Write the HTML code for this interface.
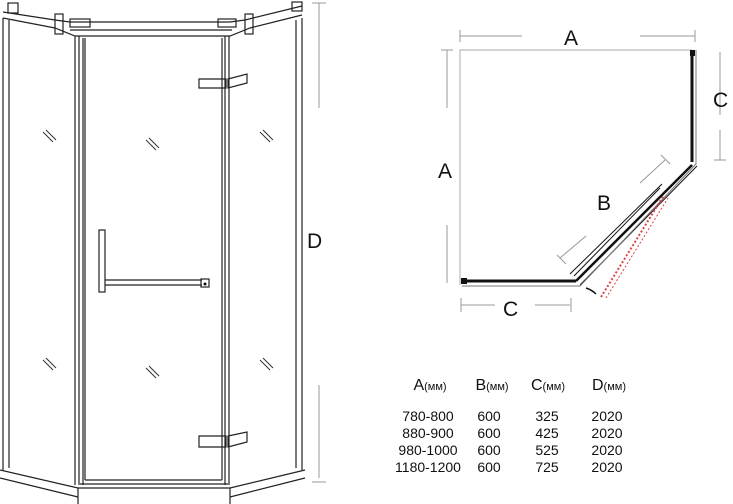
<!DOCTYPE html>
<html><head><style>body{margin:0;background:#fff}svg{display:block}text{font-family:"Liberation Sans",sans-serif;fill:#111}</style></head><body>
<svg width="733" height="504" viewBox="0 0 733 504" xmlns="http://www.w3.org/2000/svg">
<g stroke="#222" fill="none" stroke-width="1.2">
<line x1="3" y1="18" x2="3" y2="470"/><line x1="9" y1="20" x2="9" y2="468"/>
<line x1="75" y1="36" x2="75" y2="485"/><line x1="79" y1="36" x2="79" y2="485"/>
<line x1="83" y1="38" x2="83" y2="485"/>
<line x1="85" y1="38" x2="85" y2="480"/><line x1="222" y1="38" x2="222" y2="480"/>
<line x1="225" y1="36" x2="225" y2="485"/><line x1="229" y1="36" x2="229" y2="485"/>
<line x1="85" y1="480" x2="222" y2="480"/><line x1="80" y1="484" x2="228" y2="484"/>
<line x1="296" y1="20" x2="296" y2="468"/><line x1="302" y1="18" x2="302" y2="470"/>
<polyline points="3,18 55,28 75,36 230,36 250,28 302,15"/>
<polyline points="3,12 55,20 70,22 230,22 245,20 302,6"/>
<line x1="70" y1="30" x2="232" y2="30"/>
<rect x="55" y="14" width="8" height="20"/><rect x="245" y="14" width="8" height="20"/>
<rect x="8" y="3" width="10" height="10"/><rect x="292" y="2" width="10" height="9"/>
<rect x="70" y="19" width="20" height="8"/><rect x="218" y="19" width="18" height="8"/>
<polygon points="199,79 226,79 226,88 199,88"/><polygon points="228,79 247,74 247,83 228,88"/>
<polygon points="199,436 226,436 226,447 199,447"/><polygon points="228,436 247,432 247,442 228,447"/>
<rect x="99" y="230" width="6" height="62"/>
<line x1="105" y1="280" x2="202" y2="280"/><line x1="105" y1="285" x2="202" y2="285"/>
<rect x="201" y="279" width="8" height="8"/>
<polyline points="0,470 78,488 78,504"/><polyline points="0,478 78,497"/>
<polyline points="305,470 230,488 230,504"/><polyline points="305,478 230,497"/>
<line x1="78" y1="488" x2="230" y2="488"/>
</g>
<circle cx="205" cy="284" r="1.5" fill="#111"/>
<g stroke="#333" stroke-width="1">
<path d="M43 132l10 10M46 130l10 10M146 140l10 10M149 138l10 10M260 132l10 10M263 130l10 10"/>
<path d="M43 360l10 10M46 358l10 10M146 368l10 10M149 366l10 10M260 360l10 10M263 358l10 10"/>
</g>
<g stroke="#999" stroke-width="1"><line x1="319" y1="3" x2="319" y2="108"/><line x1="312" y1="3" x2="326" y2="3"/><line x1="319" y1="385" x2="319" y2="478"/><line x1="312" y1="482" x2="326" y2="482"/></g>
<text x="307" y="248" font-size="21">D</text>
<g stroke="#bbb" stroke-width="1.2" fill="none"><polyline points="460,285 460,50 692,50"/></g>
<g stroke="#111" fill="none">
<line x1="462" y1="281" x2="576" y2="281" stroke-width="3"/>
<line x1="692" y1="50" x2="692" y2="162" stroke-width="3"/>
<line x1="576" y1="281" x2="692" y2="165" stroke-width="2.5"/>
<line x1="580" y1="285" x2="697" y2="166" stroke-width="1"/>
<line x1="574" y1="276" x2="660" y2="188" stroke-width="1"/>
<line x1="570" y1="274" x2="662" y2="184" stroke-width="1"/>
<polyline points="696,50 696,164 580,286 462,286" stroke-width="1" stroke="#777"/>
</g>
<rect x="461" y="278" width="6" height="6" fill="#111"/><rect x="690" y="50" width="5" height="6" fill="#111"/>
<line x1="601" y1="297" x2="664" y2="195" stroke="#d44" stroke-width="2" stroke-dasharray="2,2"/>
<line x1="606" y1="298" x2="668" y2="198" stroke="#d44" stroke-width="1" stroke-dasharray="2,2"/>
<path d="M586 288 q6 2 10 6" stroke="#111" stroke-width="1.5" fill="none"/>
<g stroke="#999" stroke-width="1">
<line x1="460" y1="36" x2="522" y2="36"/><line x1="640" y1="36" x2="695" y2="36"/><line x1="695" y1="30" x2="695" y2="42"/><line x1="460" y1="30" x2="460" y2="42"/>
<line x1="447" y1="50" x2="447" y2="108"/><line x1="447" y1="225" x2="447" y2="283"/><line x1="441" y1="50" x2="453" y2="50"/>
<line x1="720" y1="52" x2="720" y2="115"/><line x1="720" y1="130" x2="720" y2="160"/><line x1="714" y1="160" x2="726" y2="160"/>
<line x1="461" y1="305" x2="495" y2="305"/><line x1="535" y1="305" x2="570" y2="305"/><line x1="571" y1="298" x2="571" y2="312"/><line x1="461" y1="298" x2="461" y2="312"/>
<line x1="560" y1="258" x2="586" y2="236"/><line x1="640" y1="183" x2="665" y2="160"/>
<line x1="557" y1="255" x2="566" y2="264"/><line x1="661" y1="155" x2="670" y2="164"/>
</g>
<text x="564" y="45" font-size="21">A</text>
<text x="438" y="178" font-size="21">A</text>
<text x="713" y="107" font-size="21">C</text>
<text x="503" y="316" font-size="21">C</text>
<text x="597" y="210" font-size="21">B</text>
<g font-size="14" text-anchor="middle">
<text x="430" y="390" font-size="16">A<tspan font-size="11">(мм)</tspan></text>
<text x="492" y="390" font-size="16">B<tspan font-size="11">(мм)</tspan></text>
<text x="548" y="390" font-size="16">C<tspan font-size="11">(мм)</tspan></text>
<text x="609" y="390" font-size="16">D<tspan font-size="11">(мм)</tspan></text>
<text x="428" y="421">780-800</text><text x="489" y="421">600</text><text x="547" y="421">325</text><text x="607" y="421">2020</text>
<text x="428" y="438">880-900</text><text x="489" y="438">600</text><text x="547" y="438">425</text><text x="607" y="438">2020</text>
<text x="428" y="455">980-1000</text><text x="489" y="455">600</text><text x="547" y="455">525</text><text x="607" y="455">2020</text>
<text x="428" y="472">1180-1200</text><text x="489" y="472">600</text><text x="547" y="472">725</text><text x="607" y="472">2020</text>
</g>
</svg>
</body></html>
